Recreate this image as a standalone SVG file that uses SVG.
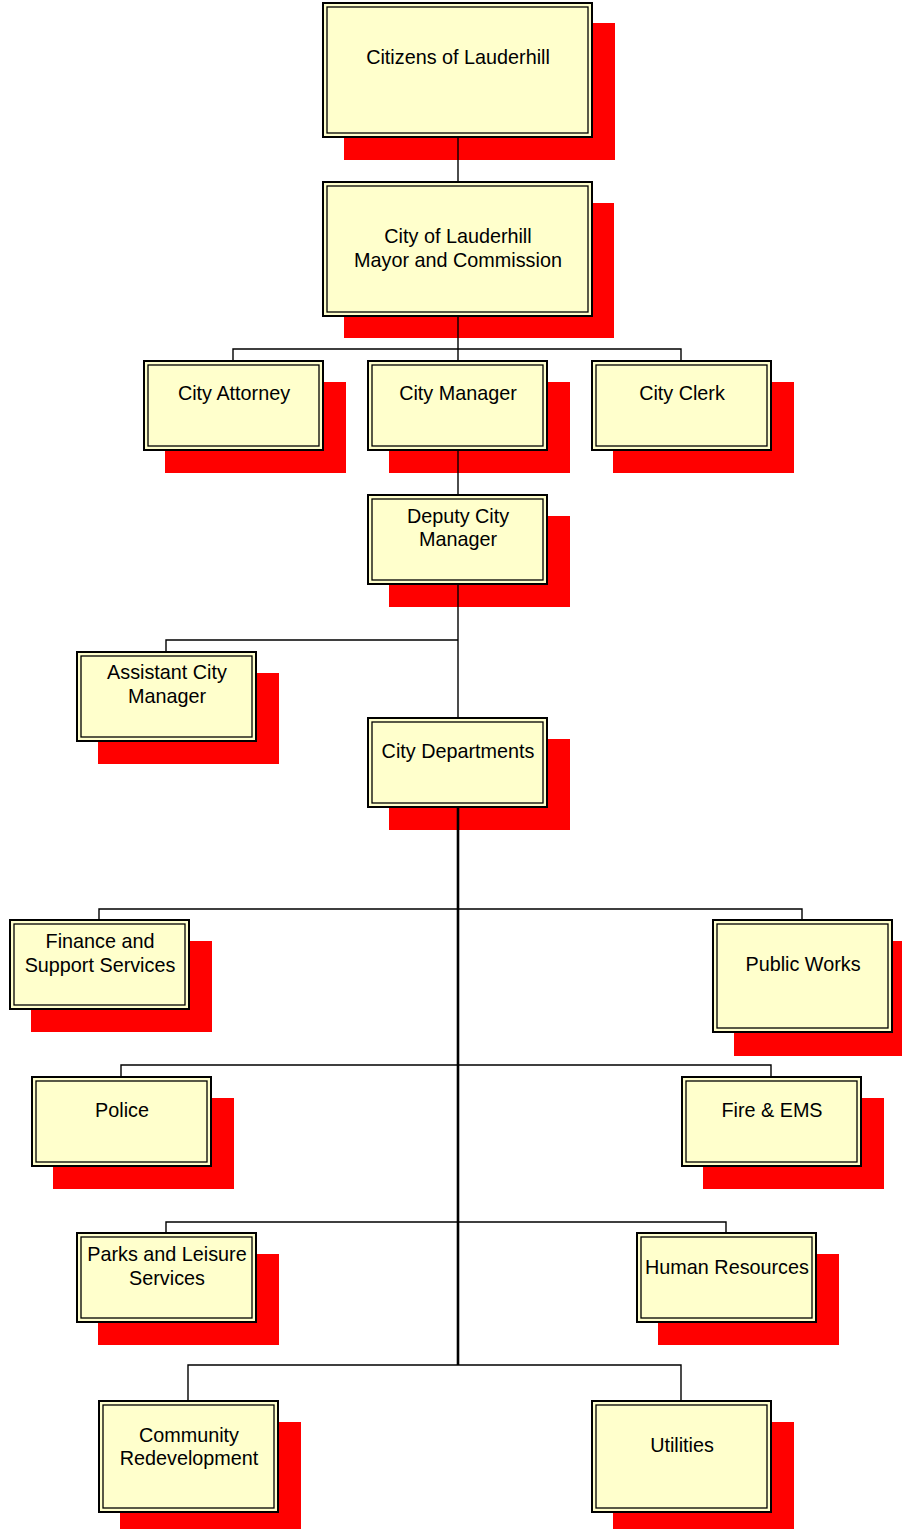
<svg xmlns="http://www.w3.org/2000/svg" width="902" height="1529" viewBox="0 0 902 1529">
<style>
.sh{fill:#FF0000;}
.ob{fill:#FFFFCC;stroke:#000;stroke-width:2;}
.ib{fill:none;stroke:#000;stroke-width:1.3;}
.t{font-family:"Liberation Sans",Arial,sans-serif;font-size:19.8px;fill:#000;text-anchor:middle;}
.c{fill:none;stroke:#000;stroke-width:1.4;}
.ct{fill:none;stroke:#000;stroke-width:2.6;}
</style>
<rect width="902" height="1529" fill="#fff"/>
<g id="citizens">
<rect class="sh" x="344" y="23" width="271" height="137"/>
<rect class="ob" x="323" y="3" width="269" height="134"/>
<rect class="ib" x="327" y="7" width="261" height="126"/>
<text class="t" x="458" y="64">Citizens of Lauderhill</text>
</g>
<g id="mayor">
<rect class="sh" x="344" y="203" width="270" height="135"/>
<rect class="ob" x="323" y="182" width="269" height="134"/>
<rect class="ib" x="327" y="186" width="261" height="126"/>
<text class="t" x="458" y="243">City of Lauderhill</text>
<text class="t" x="458" y="267">Mayor and Commission</text>
</g>
<g id="attorney">
<rect class="sh" x="165" y="382" width="181" height="91"/>
<rect class="ob" x="144" y="361" width="179" height="89"/>
<rect class="ib" x="148" y="365" width="171" height="81"/>
<text class="t" x="234" y="400">City Attorney</text>
</g>
<g id="manager">
<rect class="sh" x="389" y="382" width="181" height="91"/>
<rect class="ob" x="368" y="361" width="179" height="89"/>
<rect class="ib" x="372" y="365" width="171" height="81"/>
<text class="t" x="458" y="400">City Manager</text>
</g>
<g id="clerk">
<rect class="sh" x="613" y="382" width="181" height="91"/>
<rect class="ob" x="592" y="361" width="179" height="89"/>
<rect class="ib" x="596" y="365" width="171" height="81"/>
<text class="t" x="682" y="400">City Clerk</text>
</g>
<g id="deputy">
<rect class="sh" x="389" y="516" width="181" height="91"/>
<rect class="ob" x="368" y="495" width="179" height="89"/>
<rect class="ib" x="372" y="499" width="171" height="81"/>
<text class="t" x="458" y="523">Deputy City</text>
<text class="t" x="458" y="546">Manager</text>
</g>
<g id="assistant">
<rect class="sh" x="98" y="673" width="181" height="91"/>
<rect class="ob" x="77" y="652" width="179" height="89"/>
<rect class="ib" x="81" y="656" width="171" height="81"/>
<text class="t" x="167" y="679">Assistant City</text>
<text class="t" x="167" y="703">Manager</text>
</g>
<g id="departments">
<rect class="sh" x="389" y="739" width="181" height="91"/>
<rect class="ob" x="368" y="718" width="179" height="89"/>
<rect class="ib" x="372" y="722" width="171" height="81"/>
<text class="t" x="458" y="758">City Departments</text>
</g>
<g id="finance">
<rect class="sh" x="31" y="941" width="181" height="91"/>
<rect class="ob" x="10" y="920" width="179" height="89"/>
<rect class="ib" x="14" y="924" width="171" height="81"/>
<text class="t" x="100" y="948">Finance and</text>
<text class="t" x="100" y="972">Support Services</text>
</g>
<g id="publicworks">
<rect class="sh" x="734" y="941" width="181" height="115"/>
<rect class="ob" x="713" y="920" width="179" height="112"/>
<rect class="ib" x="717" y="924" width="171" height="104"/>
<text class="t" x="803" y="971">Public Works</text>
</g>
<g id="police">
<rect class="sh" x="53" y="1098" width="181" height="91"/>
<rect class="ob" x="32" y="1077" width="179" height="89"/>
<rect class="ib" x="36" y="1081" width="171" height="81"/>
<text class="t" x="122" y="1117">Police</text>
</g>
<g id="fire">
<rect class="sh" x="703" y="1098" width="181" height="91"/>
<rect class="ob" x="682" y="1077" width="179" height="89"/>
<rect class="ib" x="686" y="1081" width="171" height="81"/>
<text class="t" x="772" y="1117">Fire &amp; EMS</text>
</g>
<g id="parks">
<rect class="sh" x="98" y="1254" width="181" height="91"/>
<rect class="ob" x="77" y="1233" width="179" height="89"/>
<rect class="ib" x="81" y="1237" width="171" height="81"/>
<text class="t" x="167" y="1261">Parks and Leisure</text>
<text class="t" x="167" y="1285">Services</text>
</g>
<g id="hr">
<rect class="sh" x="658" y="1254" width="181" height="91"/>
<rect class="ob" x="637" y="1233" width="179" height="89"/>
<rect class="ib" x="641" y="1237" width="171" height="81"/>
<text class="t" x="727" y="1274">Human Resources</text>
</g>
<g id="community">
<rect class="sh" x="120" y="1422" width="181" height="114"/>
<rect class="ob" x="99" y="1401" width="179" height="111"/>
<rect class="ib" x="103" y="1405" width="171" height="103"/>
<text class="t" x="189" y="1442">Community</text>
<text class="t" x="189" y="1465">Redevelopment</text>
</g>
<g id="utilities">
<rect class="sh" x="613" y="1422" width="181" height="114"/>
<rect class="ob" x="592" y="1401" width="179" height="111"/>
<rect class="ib" x="596" y="1405" width="171" height="103"/>
<text class="t" x="682" y="1452">Utilities</text>
</g>
<g id="connectors">
<path class="c" d="M458 137V182"/>
<path class="c" d="M458 316V361M233 361V349H681V361"/>
<path class="c" d="M458 450V495"/>
<path class="c" d="M458 584V718M166 652V640H458"/>
<path class="ct" d="M458 807V1365"/>
<path class="c" d="M99 920V909H802V920"/>
<path class="c" d="M121 1077V1065H771V1077"/>
<path class="c" d="M166 1233V1222H726V1233"/>
<path class="c" d="M188 1401V1365H681V1401"/>
</g>
</svg>
